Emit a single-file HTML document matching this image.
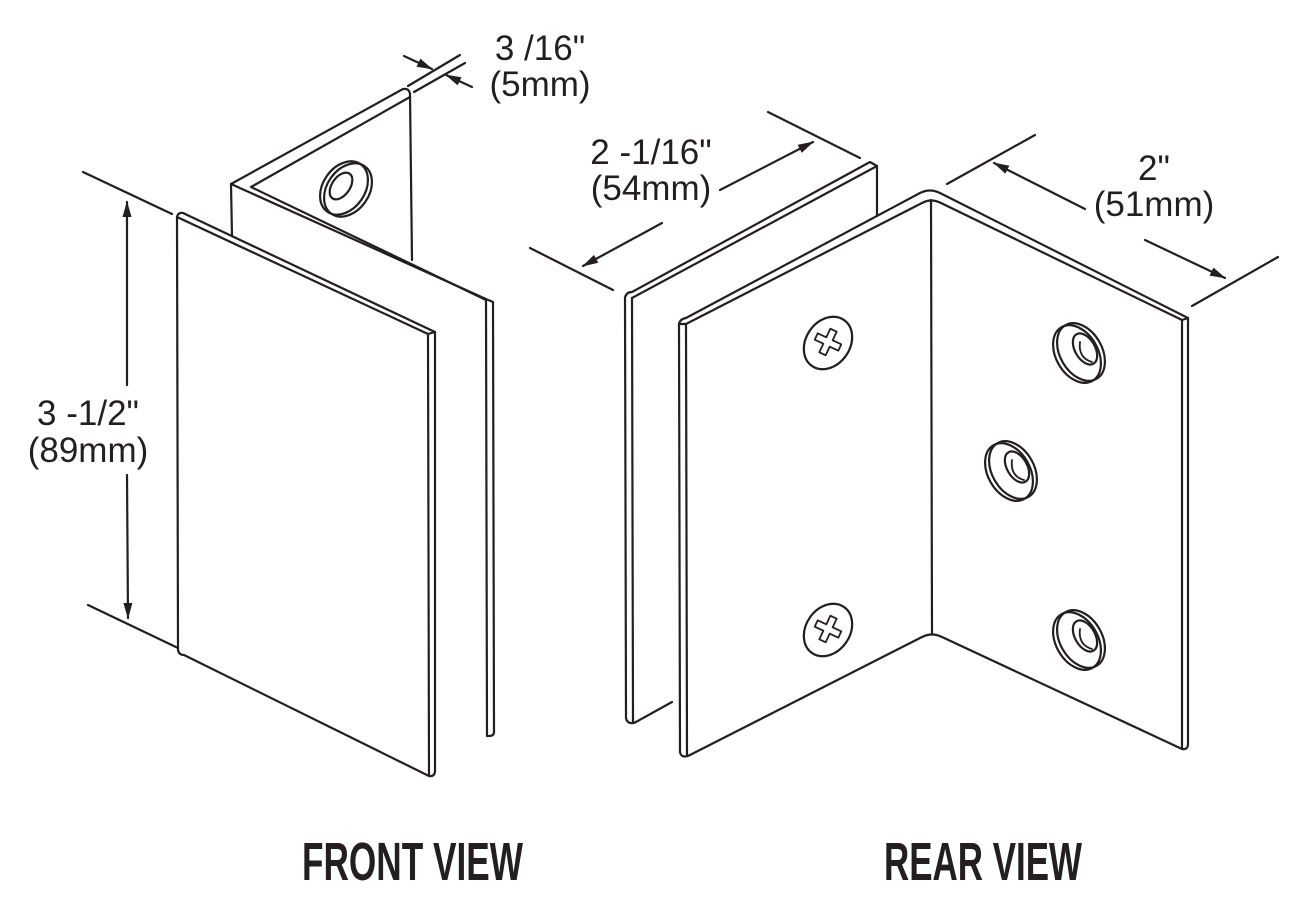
<!DOCTYPE html>
<html><head><meta charset="utf-8"><style>
html,body{margin:0;padding:0;background:#fff}
svg{display:block}
text{font-family:"Liberation Sans",Arial,sans-serif;fill:#231f20}
</style></head><body>
<svg width="1299" height="917" viewBox="0 0 1299 917" xmlns="http://www.w3.org/2000/svg">
<defs>
<marker id="ah" markerWidth="16" markerHeight="9" refX="15" refY="4.5" orient="auto" markerUnits="userSpaceOnUse">
<path d="M0,0 L16,4.5 L0,9 Z" fill="#231f20"/>
</marker>
<g id="cross"><path d="M-3.5,-13 h7 v9.5 h9.5 v7 h-9.5 v9.5 h-7 v-9.5 h-9.5 v-7 h9.5 Z"/></g>
<g id="holeR">
<ellipse cx="-3" cy="2" rx="21" ry="31" transform="rotate(-30 -3 2)"/>
<ellipse cx="1" cy="0" rx="21" ry="31" transform="rotate(-30 1 0)"/>
<ellipse cx="5" cy="-3" rx="10" ry="17" transform="rotate(-30 5 -3)"/>
<path d="M0,-10 Q-2,6 12,10" stroke-width="1.8"/>
</g>
</defs>
<g fill="none" stroke="#231f20" stroke-width="2.2" stroke-linejoin="round" stroke-linecap="round">
<!-- FRONT VIEW back L-bracket -->
<path d="M232,236 L231,184 L403,89 Q409,88 410,94 L412,260"/>
<path d="M410,97 L251,187 L486,300"/>
<path d="M231,184 L486,299 L493,302 L494,732 Q494,736 489,736 L487,736 L486,300"/>
<!-- hole -->
<g transform="translate(345,188)">
<ellipse cx="3" cy="2" rx="21" ry="29" transform="rotate(35 3 2)"/>
<ellipse cx="-1" cy="0" rx="21" ry="29" transform="rotate(35 -1 0)"/>
<ellipse cx="-4" cy="-2" rx="9" ry="15" transform="rotate(35 -4 -2)"/>
</g>
<!-- front plate -->
<path d="M177,217 L178,650 Q179,655 184,655 L429,776 Q434,777 435,772 L435,332 L183,213 Q178,212 177,217 Z" fill="#fff"/>
<path d="M177,217 L428,334 L435,332"/>
<path d="M428,334 L429,776"/>
<!-- dimension 3-1/2 -->
<path d="M83,172 L172,214"/>
<path d="M88,605 L178,648"/>
<path d="M127,385 L127,202" marker-end="url(#ah)"/>
<path d="M127,475 L128,618" marker-end="url(#ah)"/>
<!-- dimension 3/16 -->
<path d="M408,86 L460,55"/>
<path d="M414,92 L465,63"/>
<path d="M404,56 L432,69" marker-end="url(#ah)"/>
<path d="M472,87 L446,75" marker-end="url(#ah)"/>

<!-- REAR VIEW left thin plate -->
<path d="M625,298 L626,718 Q627,724 634,723 L672,702"/>
<path d="M632,298 L633,722"/>
<path d="M625,298 Q626,292 632,292 L870,162 L877,166 L877,215"/>
<path d="M632,298 L877,166"/>
<!-- main L -->
<path d="M679,324 L680,752 Q681,758 688,756 L922,637 Q932,632 942,637 L1182,749 Q1188,750 1188,744 L1188,318 L940,193 Q930,188 920,193 L686,318 Q680,319 679,324 Z" fill="#fff"/>
<path d="M686,324 L687,756"/>
<path d="M686,324 L922,203 Q931,198 941,203 L1182,320 L1182,749"/>
<path d="M931,200 L932,634"/>
<path d="M1182,320 L1188,318"/>
<path d="M679,324 L686,324"/>
<!-- screws -->
<ellipse cx="828" cy="343" rx="22" ry="28" transform="rotate(35 828 343)"/>
<use href="#cross" transform="translate(828,342) rotate(25)" stroke-width="1.8"/>
<ellipse cx="828" cy="630" rx="22" ry="28" transform="rotate(35 828 630)"/>
<use href="#cross" transform="translate(828,629) rotate(25)" stroke-width="1.8"/>
<!-- holes -->
<use href="#holeR" transform="translate(1080,352)"/>
<use href="#holeR" transform="translate(1012,470)"/>
<use href="#holeR" transform="translate(1080,639)"/>
<!-- dimension 2-1/16 -->
<path d="M530,248 L613,290"/>
<path d="M768,112 L860,158"/>
<path d="M662,223 L583,266" marker-end="url(#ah)"/>
<path d="M720,190 L813,142" marker-end="url(#ah)"/>
<!-- dimension 2" -->
<path d="M947,184 L1035,135"/>
<path d="M1192,306 L1278,257"/>
<path d="M1085,209 L994,163" marker-end="url(#ah)"/>
<path d="M1145,240 L1225,278" marker-end="url(#ah)"/>
</g>
<g font-size="35">
<text x="88" y="425" text-anchor="middle">3 -1/2"</text>
<text x="88" y="462" text-anchor="middle">(89mm)</text>
<text x="540" y="60" text-anchor="middle">3 /16"</text>
<text x="540" y="96" text-anchor="middle">(5mm)</text>
<text x="651" y="164" text-anchor="middle">2 -1/16"</text>
<text x="651" y="200" text-anchor="middle">(54mm)</text>
<text x="1154" y="180" text-anchor="middle">2"</text>
<text x="1154" y="216" text-anchor="middle">(51mm)</text>
</g>
<text x="302" y="880" font-size="54" font-weight="bold" textLength="221" lengthAdjust="spacingAndGlyphs">FRONT VIEW</text>
<text x="884" y="880" font-size="54" font-weight="bold" textLength="198" lengthAdjust="spacingAndGlyphs">REAR VIEW</text>
</svg>
</body></html>
